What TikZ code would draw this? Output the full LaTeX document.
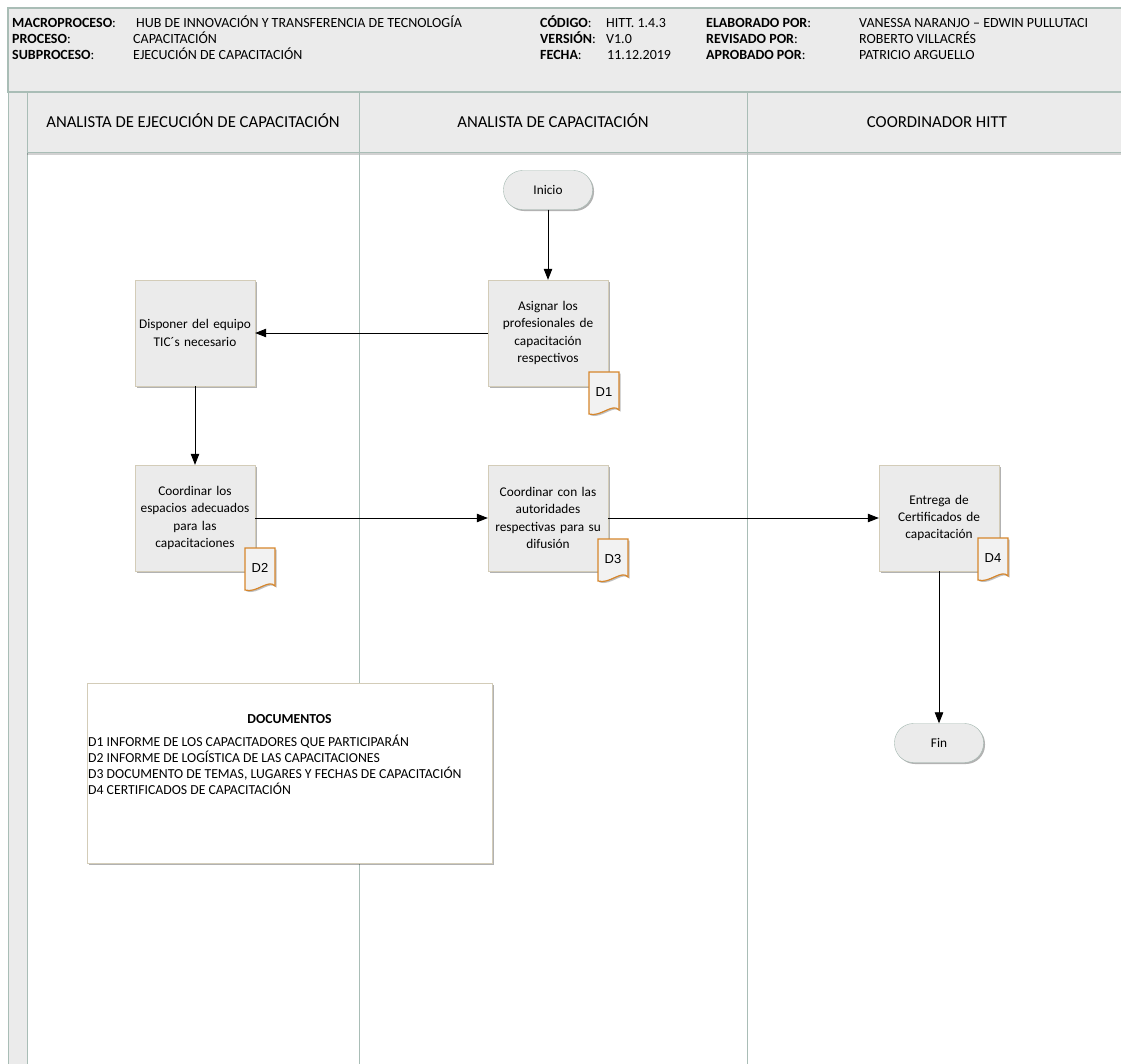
\documentclass[tikz,border=0pt]{standalone}
\usepackage{fontspec}
\setmainfont{Carlito}
\newfontfamily\arialf{Liberation Sans}
\usetikzlibrary{arrows.meta,shadows}
\definecolor{panel}{HTML}{EBEBEB}
\definecolor{laneline}{HTML}{A9BDB6}
\definecolor{boxline}{HTML}{D3CCB8}
\definecolor{docorange}{HTML}{D6862C}
\definecolor{termline}{HTML}{A3B8B0}
\definecolor{docfill}{HTML}{F2F2F2}
\tikzset{
  shade1/.style={drop shadow={shadow xshift=1.5pt,shadow yshift=-1.5pt,opacity=0.3,fill=black}},
  proc/.style={draw=boxline, fill=panel, minimum width=120pt, minimum height=106pt,
    align=center, text width=116pt, inner sep=0pt, font=\fontsize{13.3}{17.4}\selectfont, shade1},
  term/.style={draw=termline, fill=panel, rounded corners=19pt, minimum width=89pt,
    minimum height=39pt, inner sep=0pt, font=\fontsize{13.3}{15}\selectfont, shade1},
  flow/.style={draw=black, line width=0.8pt, -{Triangle[length=11pt,width=8.5pt]}},
  lanehead/.style={font=\fontsize{16.7}{19}\selectfont, inner sep=0pt, anchor=base},
  hb/.style={font=\fontsize{14}{16}\selectfont, anchor=base west, inner sep=0pt},
  doclabel/.style={font=\arialf\fontsize{13}{15}\selectfont, inner sep=0pt},
  doctext/.style={font=\fontsize{13.75}{15}\selectfont, anchor=base west, inner sep=0pt},
}
\newcommand\docsym[3]{%
  \begin{scope}[shift={(#2)}]
    \fill[black,opacity=0.25] (1.5,1.5) -- (31.5,1.5) -- (31.5,39.5) .. controls (25,32) and (13,47) .. (1.5,43.5) -- cycle;
    \draw[docorange, fill=docfill, line width=1.2pt] (0,0) -- (30,0) -- (30,38) .. controls (23.5,30.5) and (11.5,45.5) .. (0,42) -- cycle;
    \node[doclabel] (#1) at (15,20) {#3};
  \end{scope}}
\begin{document}
\begin{tikzpicture}[x=1pt,y=-1pt]
\useasboundingbox (0,0) rectangle (1121,1063);
\fill[white] (0,0) rectangle (1121,1063);
% header panel
\draw[laneline, fill=panel, line width=1.5pt] (8,8) rectangle (1130,92);
% left strip
\draw[laneline, fill=panel, line width=0.8pt] (8,92) rectangle (27,1075);
% lane header row
\fill[black,opacity=0.18] (27,152) rectangle (1130,155);
\draw[laneline, fill=panel, line width=0.8pt] (27,92) rectangle (1130,152);
\draw[laneline, line width=0.8pt] (359,92) -- (359,1075);
\draw[laneline, line width=0.8pt] (747,92) -- (747,1075);

% header texts
\node[hb] (m1) at (12,27) {\bfseries MACROPROCESO\mdseries:};
\node[hb] (m2) at (12,43) {\bfseries PROCESO\mdseries:};
\node[hb] (m3) at (12,59) {\bfseries SUBPROCESO\mdseries:};
\node[hb] (v1) at (136,27) {HUB DE INNOVACIÓN Y TRANSFERENCIA DE TECNOLOGÍA};
\node[hb] (v2) at (133,43) {CAPACITACIÓN};
\node[hb] (v3) at (133,59) {EJECUCIÓN DE CAPACITACIÓN};
\node[hb] (c1) at (540,27) {\bfseries CÓDIGO\mdseries:};
\node[hb] (c2) at (540,43) {\bfseries VERSIÓN\mdseries:};
\node[hb] (c3) at (540,59) {\bfseries FECHA\mdseries:};
\node[hb] (w1) at (606,27) {HITT. 1.4.3};
\node[hb] (w2) at (606,43) {V1.0};
\node[hb] (w3) at (607,59) {11.12.2019};
\node[hb] (e1) at (706,27) {\bfseries ELABORADO POR\mdseries:};
\node[hb] (e2) at (706,43) {\bfseries REVISADO POR\mdseries:};
\node[hb] (e3) at (706,59) {\bfseries APROBADO POR\mdseries:};
\node[hb] (f1) at (859,27) {VANESSA NARANJO – EDWIN PULLUTACI};
\node[hb] (f2) at (859,43) {ROBERTO VILLACRÉS};
\node[hb] (f3) at (859,59) {PATRICIO ARGUELLO};

% lane headers
\node[lanehead] (l1) at (193,127) {ANALISTA DE EJECUCIÓN DE CAPACITACIÓN};
\node[lanehead] (l2) at (553,127) {ANALISTA DE CAPACITACIÓN};
\node[lanehead] (l3) at (937,127) {COORDINADOR HITT};

% process nodes
\node[term] (ini) at (548,190) {Inicio};
\node[proc] (asig) at (548,333) {Asignar los\\profesionales de\\capacitación\\respectivos};
\node[proc] (disp) at (195,333) {Disponer del equipo\\TIC´s necesario};
\node[proc] (esp) at (195,518) {Coordinar los\\espacios adecuados\\para las\\capacitaciones};
\node[proc] (aut) at (548,518) {Coordinar con las\\autoridades\\respectivas para su\\difusión};
\node[proc] (ent) at (939,518) {Entrega de\\Certificados de\\capacitación};
\node[term] (fin) at (939,743) {Fin};

% document symbols
\docsym{d1}{589,372}{D1}
\docsym{d2}{245,548}{D2}
\docsym{d3}{598,539}{D3}
\docsym{d4}{978,538}{D4}

% connectors
\draw[flow] (ini) -- (asig);
\draw[flow] (asig) -- (disp);
\draw[flow] (disp) -- (esp);
\draw[flow] (esp) -- (aut);
\draw[flow] (aut) -- (ent);
\draw[flow] (ent) -- (fin);

% documents legend
\node[draw=boxline, fill=white, minimum width=405pt, minimum height=180pt, inner sep=0pt, shade1] (legend) at (289.5,773) {};
\node[font=\bfseries\fontsize{13.75}{15}\selectfont, inner sep=0pt] (ltitle) at (289.5,719) {DOCUMENTOS};
\node[doctext] (ld1) at (88,746) {D1 INFORME DE LOS CAPACITADORES QUE PARTICIPARÁN};
\node[doctext] (ld2) at (88,762) {D2 INFORME DE LOGÍSTICA DE LAS CAPACITACIONES};
\node[doctext] (ld3) at (88,778) {D3 DOCUMENTO DE TEMAS, LUGARES Y FECHAS DE CAPACITACIÓN};
\node[doctext] (ld4) at (88,794) {D4 CERTIFICADOS DE CAPACITACIÓN};
\end{tikzpicture}
\end{document}
